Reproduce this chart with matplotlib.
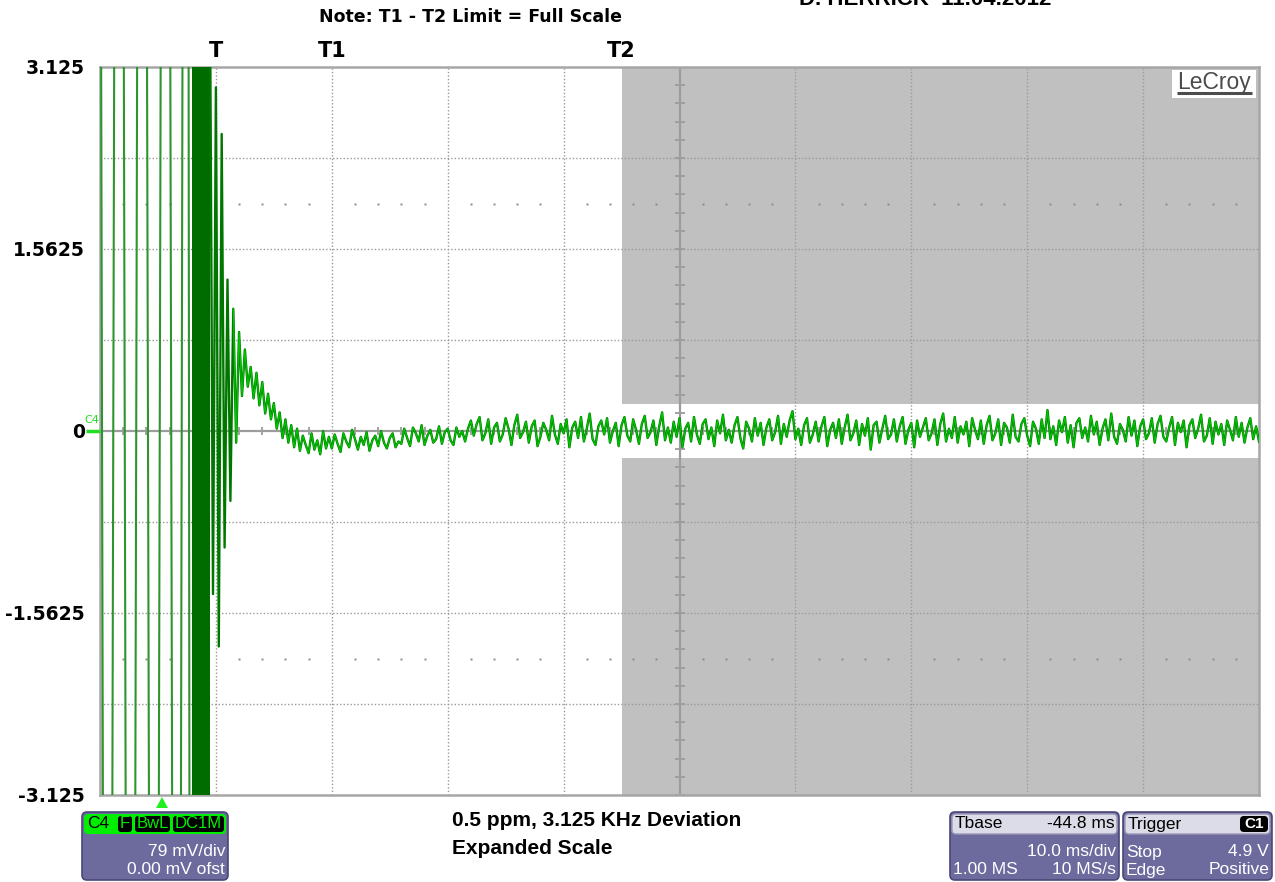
import numpy as np
import matplotlib
matplotlib.use("Agg")
import matplotlib.pyplot as plt
from matplotlib.patches import FancyBboxPatch, Polygon

# ---------------- data ----------------
Y_TICKS = [3.125, 1.5625, 0.0, -1.5625, -3.125]
Y_LABELS = ["3.125", "1.5625", "0", "-1.5625", "-3.125"]
V_DIV = 0.78125          # volts per vertical division
T_DIV = 10.0             # ms per horizontal division
N_HDIV = 10
N_VDIV = 8

CURSOR_NAMES = ["T", "T1", "T2"]
CURSOR_TIMES = [10.0, 20.0, 45.0]    # ms
LIMIT_START = 45.0                  # gray limit mask starts at T2
LIMIT_BAND = 0.234                  # +/- allowed band around 0

# aliased full-scale sweep before the burst (ms, V)
SWEEP_T = [-0.3, 0.65, 1.64, 2.63, 3.62, 4.66, 5.65, 6.64, 7.46, 7.9]
SWEEP_V = [20, -20, 20, -20, 20, -20, 20, -20, 20, -20]
BURST_START = 7.9   # ms
BURST_END = 9.5     # ms

# sampled trace after the burst
TRACE_T0 = 9.5      # ms
TRACE_DT = 0.25     # ms
DECAY_V = [3.6, -1.4, 2.95, -1.85, 2.55, -1.0, 1.3, -0.6, 1.05, -0.1,
           0.85, 0.3, 0.7, 0.38, 0.55, 0.28, 0.5, 0.22, 0.42, 0.15,
           0.32, 0.1, 0.24, 0.02, 0.16, -0.06, 0.1, -0.1, 0.05, -0.14,
           0.02, -0.17, -0.04, -0.12, -0.19, -0.02, -0.16, -0.08, -0.2, 0.0,
           -0.15, -0.05]
NOISE_CENTI = [
    -15, -3, -11, -18, -2, -9, -14, 1, -7, -16, -5, -12, -1, -17, -8, -4, -13, 0, -10, -15, -6, -2, -14, -9,
    -11, 2, -6, -13, 3, -2, -9, 5, -12, -4, 1, -10, -7, 4, -11, -1, 2, -8, -12, 3, -5, 0, -9, 2,
    9, -4, 6, 12, -8, -2, 10, -11, 3, 7,
    -9, -3, 11, 2, -12, 5, 14, -6, -1, 8,
    -10, 4, 9, -13, -5, 7, 1, -8, 13, -3,
    -11, 6, -2, 10, -14, 3, 8, -6, 12, -9,
    2, 15, -7, -12, 4, 9, -3, 11, -10, 0,
    7, -13, 5, 12, -4, -9, 10, 1, -11, 6,
    13, -6, -1, 9, -12, 4, 16, -8, 3, -10,
    8, -5, 11, -14, 2, 7, -9, 12, -3, -11,
    6, 10, -7, 3, -13, 9, -2, 14, -8, 1,
    -10, 5, 12, -6, -15, 8, 2, -9, 11, -4,
    7, -12, 3, 10, -8, -1, 13, -11, 6, -5,
    9, 17, -7, 2, -12, 5, 11, -10, -3, 8,
    -9, 4, 12, -13, 1, 7, -6, 10, -11, 3,
    14, -8, -2, 9, -12, 6, -4, 11, -16, 5,
    8, -10, 2, 13, -7, -3, 10, -9, 4, 12,
    -11, 1, 7, -14, 9, -5, 3, 11, -8, -2,
    10, -12, 6, 15, -9, 2, -6, 12, -10, 4,
    -3, 8, -13, 11, 1, -7, 9, -11, 5, 13,
    -8, -2, 10, -12, 7, 3, -10, 14, -5, -9,
    6, 11, -4, -13, 8, 2, -11, 10, -6, 18,
    -7, 4, -12, 9, -1, 12, -10, 5, -14, 7,
    11, -6, 3, -9, 13, -3, 8, -12, 2, 10,
    -8, 15, -5, -11, 6, 1, -9, 12, -4, 9,
    -13, 4, 10, -7, -2, 11, -10, 6, 13, -5,
    -9, 3, 12, -12, 7, -1, 9, -14, 5, 10,
    -6, 2, 14, -9, -4, 11, -11, 8, -3, 6,
    -12, 9, 1, -8, 12, -5, 7, -10, 3, 11,
    -7, 4, -9]

TITLE_NOTE = "Note: T1 - T2 Limit = Full Scale"
AUTHOR = "D. HERRICK  11.04.2012"
CAPTION = ["0.5 ppm, 3.125 KHz Deviation", "Expanded Scale"]

# ---------------- figure ----------------
W, H = 1275, 882
fig = plt.figure(figsize=(W / 100, H / 100), dpi=100)
fig.patch.set_facecolor("white")

def fx(px):
    return px / W

def fy(py):
    return 1 - py / H

ax = fig.add_axes([fx(100), fy(795), (1259 - 100) / W, (795 - 67) / H])
xmax = T_DIV * N_HDIV
ymax = V_DIV * N_VDIV / 2
ax.set_xlim(0, xmax)
ax.set_ylim(-ymax, ymax)
ax.set_facecolor("white")

# gray limit mask
mask_c = "#c0c0c0"
ax.fill_between([LIMIT_START, xmax], LIMIT_BAND, ymax, color=mask_c, lw=0, zorder=0.5)
ax.fill_between([LIMIT_START, xmax], -ymax, -LIMIT_BAND, color=mask_c, lw=0, zorder=0.5)

# grid
gc = "#9a9a9a"
for k in range(1, N_HDIV):
    if k == N_HDIV // 2:
        continue
    ax.axvline(k * T_DIV, color=gc, lw=1.0, ls=(0, (1, 1.5)), zorder=1)
for k in range(1, N_VDIV):
    if k == N_VDIV // 2:
        continue
    ax.axhline((k - N_VDIV / 2) * V_DIV, color=gc, lw=1.0, ls=(0, (1, 1.5)), zorder=1)

# dot rows at +/- 2.5 div
sub_x = np.arange(0, xmax + 0.01, T_DIV / 5)
sub_x = sub_x[(np.abs(sub_x / T_DIV - np.round(sub_x / T_DIV)) > 1e-6)]
for yy in (2.5 * V_DIV, -2.5 * V_DIV):
    ax.plot(sub_x, np.full_like(sub_x, yy), ls="none", marker="s", ms=1.6,
            color="#8c8c8c", mec="none", zorder=1)

# center cross with ticks
cc = "#9c9c9c"
ax.axhline(0, color=cc, lw=1.6, zorder=1.5)
ax.axvline(xmax / 2, color=cc, lw=1.6, zorder=1.5)
ax.plot(sub_x, np.zeros_like(sub_x), ls="none", marker="|", ms=6, mew=1.3,
        color=cc, zorder=1.5)
sub_y = np.arange(-ymax, ymax + 1e-9, V_DIV / 5)
ax.plot(np.full_like(sub_y, xmax / 2), sub_y, ls="none", marker="_", ms=6.5, mew=1.3,
        color=cc, zorder=1.5)

# ---------------- trace ----------------
dark = "#007800"
ax.plot(SWEEP_T, SWEEP_V, color="#2e952e", lw=1.5, zorder=3)
ax.axvspan(BURST_START, BURST_END, color="#006c00", lw=0, zorder=3)

trace_v = np.array(DECAY_V + [c / 100 for c in NOISE_CENTI])
trace_t = TRACE_T0 + TRACE_DT * np.arange(len(trace_v))
ax.plot(trace_t, trace_v, color=dark, lw=1.7, zorder=3)
ax.plot(trace_t[8:], trace_v[8:], color="#00c400", lw=0.9, zorder=3.1)

# frame
for s in ax.spines.values():
    s.set_color("#a6a6a6")
    s.set_linewidth(1.8)

ax.set_xticks([])
ax.set_yticks(Y_TICKS)
ax.set_yticklabels(Y_LABELS)
ax.tick_params(axis="y", length=0, pad=11)
for lab in ax.get_yticklabels():
    lab.set_fontfamily("DejaVu Sans")
    lab.set_fontweight("bold")
    lab.set_fontsize(13.5)

# cursor labels
for name, t in zip(CURSOR_NAMES, CURSOR_TIMES):
    ax.text(t, ymax + 0.05, name, ha="center", va="bottom",
            fontsize=15, fontweight="bold", family="DejaVu Sans", clip_on=False)

# ---------------- texts around ----------------
fig.text(fx(471), fy(17), TITLE_NOTE, ha="center", va="center", fontsize=12.5,
         fontweight="bold", family=["Liberation Sans Narrow", "DejaVu Sans"])
fig.text(fx(925), fy(5), AUTHOR, ha="center", va="baseline", fontsize=16,
         fontweight="bold", family="Liberation Sans")
fig.text(fx(452), fy(820), CAPTION[0], ha="left", va="center", fontsize=15,
         fontweight="bold", family="Liberation Sans")
fig.text(fx(452), fy(849), CAPTION[1], ha="left", va="center", fontsize=15,
         fontweight="bold", family="Liberation Sans")

# C4 marker at left
fig.text(fx(92), fy(420), "C4", ha="center", va="center", fontsize=8, color="#22dd22",
         family="DejaVu Sans")

# ---------------- overlay for panels ----------------
oax = fig.add_axes([0, 0, 1, 1], zorder=5)
oax.set_xlim(0, W)
oax.set_ylim(H, 0)
oax.axis("off")
oax.patch.set_visible(False)

oax.plot([86, 100], [431, 431], color="#22dd22", lw=2.5, solid_capstyle="butt")
oax.add_patch(Polygon([[156, 808], [168, 808], [162, 797]], closed=True,
                      fc="#22ee22", ec="none"))

purple = "#6d6a9e"
edge = "#4b4878"

def rbox(x0, y0, x1, y1, fc, ec="none", r=5, lw=1.0, z=1):
    p = FancyBboxPatch((x0, y0), x1 - x0, y1 - y0,
                       boxstyle=f"round,pad=0,rounding_size={r}",
                       fc=fc, ec=ec, lw=lw, zorder=z)
    oax.add_patch(p)

# LeCroy logo
rbox(1172, 70, 1256, 98, "white", "none", r=0.01, z=1)
oax.text(1214, 82, "LeCroy", ha="center", va="center", fontsize=16.5,
         family="Liberation Sans", color="#4c4c4c", zorder=2)
oax.plot([1177, 1252], [93, 93], color="#4c4c4c", lw=2.2, solid_capstyle="butt", zorder=2)

ff = "Liberation Sans"
fs = 12.5

# C4 panel
rbox(82, 812, 228, 880, purple, edge, r=5, lw=1.2)
rbox(84, 814, 226, 834, "#00ee00", "none", r=4, z=2)
oax.text(87, 824, "C4", ha="left", va="center", fontsize=fs, family=ff, color="black", zorder=3)
for x0, x1, lab in [(118, 132, "F"), (135, 170, "BwL"), (173, 224, "DC1M")]:
    rbox(x0, 816, x1, 832, "black", "none", r=3, z=3)
    oax.text((x0 + x1) / 2, 824, lab, ha="center", va="center", fontsize=fs - 0.5,
             family=ff, color="#00ee00", zorder=4)
oax.text(225, 852, "79 mV/div", ha="right", va="center", fontsize=fs, family=ff, color="white")
oax.text(225, 870, "0.00 mV ofst", ha="right", va="center", fontsize=fs, family=ff, color="white")

# Tbase panel
rbox(950, 812, 1119, 880, purple, edge, r=5, lw=1.2)
rbox(952, 814, 1117, 834, "#dcdce8", "#9a98b8", r=4, z=2)
oax.text(955, 824, "Tbase", ha="left", va="center", fontsize=fs, family=ff, color="black", zorder=3)
oax.text(1115, 824, "-44.8 ms", ha="right", va="center", fontsize=fs, family=ff, color="black", zorder=3)
oax.text(1116, 852, "10.0 ms/div", ha="right", va="center", fontsize=fs, family=ff, color="white")
oax.text(953, 870, "1.00 MS", ha="left", va="center", fontsize=fs, family=ff, color="white")
oax.text(1116, 870, "10 MS/s", ha="right", va="center", fontsize=fs, family=ff, color="white")

# Trigger panel
rbox(1123, 812, 1272, 880, purple, edge, r=5, lw=1.2)
rbox(1125, 814, 1270, 834, "#dcdce8", "#9a98b8", r=4, z=2)
oax.text(1128, 824, "Trigger", ha="left", va="center", fontsize=fs, family=ff, color="black", zorder=3)
rbox(1240, 816, 1268, 832, "black", "none", r=4, z=3)
oax.text(1254, 824, "C1", ha="center", va="center", fontsize=fs - 1.5, family=ff,
         color="white", fontweight="bold", zorder=4)
oax.text(1126, 852, "Stop", ha="left", va="center", fontsize=fs, family=ff, color="white")
oax.text(1269, 852, "4.9 V", ha="right", va="center", fontsize=fs, family=ff, color="white")
oax.text(1126, 870, "Edge", ha="left", va="center", fontsize=fs, family=ff, color="white")
oax.text(1269, 870, "Positive", ha="right", va="center", fontsize=fs, family=ff, color="white")

fig.savefig("out.png", dpi=100)
